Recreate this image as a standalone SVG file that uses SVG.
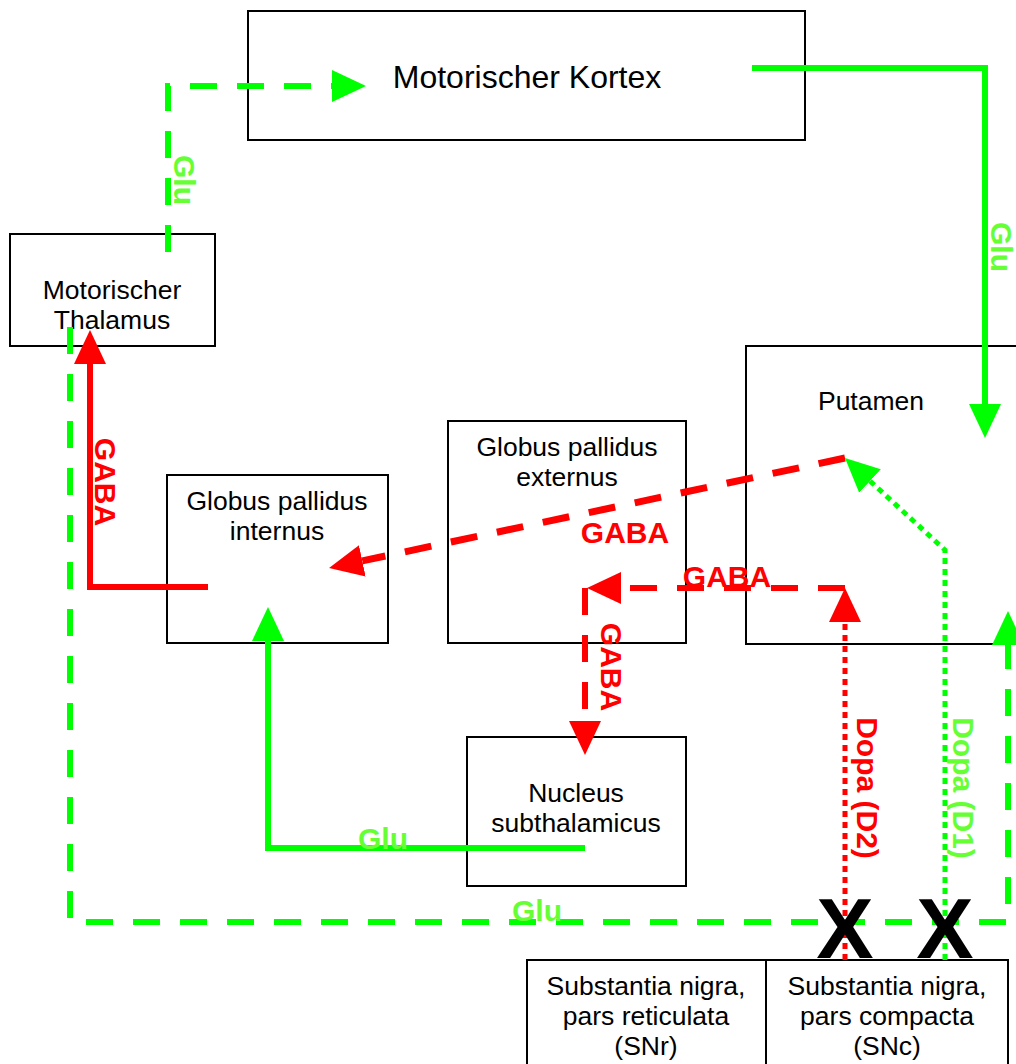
<svg xmlns="http://www.w3.org/2000/svg" width="1016" height="1064" viewBox="0 0 1016 1064">
<style>
.box{fill:#fff;stroke:#000;stroke-width:2}
.nt{font-family:"Liberation Sans",Arial,sans-serif;font-size:26.5px;fill:#000;text-anchor:middle}
.big{font-size:32px}
.lbl{font-family:"Liberation Sans",Arial,sans-serif;font-size:30px;font-weight:bold;text-anchor:middle}
.rl{fill:#ff0000}
.gl{fill:#66ff33}
.g{fill:none;stroke:#00ff00;stroke-width:6}
.r{fill:none;stroke:#ff0000;stroke-width:6}
.dash{stroke-dasharray:27,20}
.dot{stroke-dasharray:6,5;stroke-width:5}
.x{font-family:"Liberation Sans",Arial,sans-serif;font-size:86px;font-weight:bold;fill:#000;text-anchor:middle}
</style>
<defs>
<marker id="ag" markerUnits="userSpaceOnUse" viewBox="0 -20 40 40" refX="0" refY="0" markerWidth="40" markerHeight="40" orient="auto"><path d="M0,-16 L34,0 L0,16 z" fill="#00ff00"/></marker>
<marker id="ar" markerUnits="userSpaceOnUse" viewBox="0 -20 40 40" refX="0" refY="0" markerWidth="40" markerHeight="40" orient="auto"><path d="M0,-16 L34,0 L0,16 z" fill="#ff0000"/></marker>
</defs>

<g id="kortex"><rect class="box" x="248" y="11" width="557" height="129"/><text class="nt big" x="527" y="88">Motorischer Kortex</text></g>
<g id="thalamus"><rect class="box" x="10" y="234" width="205" height="112"/><text class="nt" x="112" y="299">Motorischer</text><text class="nt" x="112" y="329">Thalamus</text></g>
<g id="putamen"><rect class="box" x="746" y="346" width="280" height="298"/><text class="nt" x="871" y="410">Putamen</text></g>
<g id="gpe"><rect class="box" x="448" y="421" width="238" height="222"/><text class="nt" x="567" y="456">Globus pallidus</text><text class="nt" x="567" y="486">externus</text></g>
<g id="gpi"><rect class="box" x="167" y="475" width="221" height="168"/><text class="nt" x="277" y="510">Globus pallidus</text><text class="nt" x="277" y="540">internus</text></g>
<g id="nst"><rect class="box" x="467" y="737" width="219" height="149"/><text class="nt" x="576" y="802">Nucleus</text><text class="nt" x="576" y="832">subthalamicus</text></g>
<g id="snr"><rect class="box" x="527" y="960" width="239" height="120"/><text class="nt" x="646" y="995">Substantia nigra,</text><text class="nt" x="646" y="1025">pars reticulata</text><text class="nt" x="646" y="1055">(SNr)</text></g>
<g id="snc"><rect class="box" x="766" y="960" width="242" height="120"/><text class="nt" x="887" y="995">Substantia nigra,</text><text class="nt" x="887" y="1025">pars compacta</text><text class="nt" x="887" y="1055">(SNc)</text></g>

<g id="connectors">
<path class="g dash" d="M168,252 V86 H332" marker-end="url(#ag)"/>
<text class="lbl gl" transform="translate(184,180) rotate(90)" dominant-baseline="central">Glu</text>

<path class="g" d="M752,68 H985 V404" marker-end="url(#ag)"/>
<text class="lbl gl" transform="translate(1001,247) rotate(90)" dominant-baseline="central">Glu</text>

<path class="r" d="M208,587 H90 V364" marker-end="url(#ar)"/>
<text class="lbl rl" transform="translate(105,482) rotate(90)" dominant-baseline="central">GABA</text>

<path class="r dash" style="stroke-width:7" d="M845,458 L362.3,560.9" marker-end="url(#ar)"/>
<text class="lbl rl" x="625" y="543">GABA</text>

<path class="r dash" d="M845,588 H621" marker-end="url(#ar)"/>
<text class="lbl rl" x="727" y="587">GABA</text>

<path class="r dash" d="M585,588 V721" marker-end="url(#ar)"/>
<text class="lbl rl" transform="translate(611,667) rotate(90)" dominant-baseline="central">GABA</text>

<path class="r dot" d="M845,960 V622" marker-end="url(#ar)"/>
<text class="lbl rl" transform="translate(867,788) rotate(90)" dominant-baseline="central">Dopa (D2)</text>

<path class="g dot" d="M945,960 V550 L870,481" marker-end="url(#ag)"/>
<text class="lbl gl" transform="translate(963,788) rotate(90)" dominant-baseline="central">Dopa (D1)</text>

<path class="g" d="M585,848 H268 V641" marker-end="url(#ag)"/>
<text class="lbl gl" x="383" y="849">Glu</text>

<path class="g dash" d="M70,327 V922 H1008 V645" marker-end="url(#ag)"/>
<text class="lbl gl" x="537" y="921">Glu</text>

<text class="x" x="845" y="958">X</text>
<text class="x" x="945" y="958">X</text>
</g>
</svg>
